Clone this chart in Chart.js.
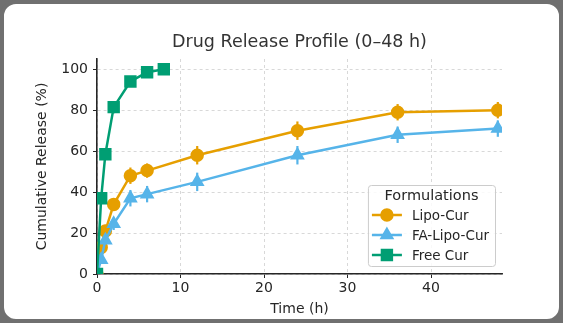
<!DOCTYPE html>
<html>
<head>
<meta charset="utf-8">
<script src="https://cdn.jsdelivr.net/npm/chart.js@4"></script>
<style>
  html, body { margin: 0; padding: 0; background: #707070; }
  #frame {
    position: absolute; left: 0; top: 0; width: 563px; height: 323px;
    box-sizing: border-box; border: 4px solid #707070; border-radius: 16px; background: #fff;
  }
  #wrap { position: absolute; left: 0; top: 0; width: 563px; height: 323px; }
</style>
</head>
<body>
<div id="frame"></div>
<div id="wrap"><canvas id="releaseChart" width="563" height="323"></canvas></div>
<script>
// sampling times (h)
const timeLipo = [0, 0.5, 1, 2, 4, 6, 12, 24, 36, 48];
const timeFree = [0, 0.5, 1, 2, 4, 6, 8];

// cumulative release (%) and error (+/-)
const lipoCur   = [0, 13, 21, 34, 48, 50.5, 58, 70, 79, 80];
const lipoErr   = [0, 2, 3, 3, 4, 3.5, 4.5, 4.5, 4, 4];
const faLipoCur = [0, 7, 16.5, 24.5, 37, 39, 45, 58, 68, 71];
const faErr     = [0, 2, 2.5, 3, 4, 4, 4.5, 4.5, 4, 4];
const freeCur   = [0, 37, 58.5, 81.5, 94, 98.5, 100];
const freeErr   = [0, 2, 2.5, 3, 2.5, 1.5, 1];

const xTicks = [0, 10, 20, 30, 40];
const yTicks = [0, 20, 40, 60, 80, 100];

const chartTitle = 'Drug Release Profile (0\u201348 h)';
const FONT = "'DejaVu Sans', sans-serif";

function toPoints(xs, ys) {
    return xs.map((x, i) => ({ x: x, y: ys[i] }));
}

// title centred over the axes, like matplotlib's ax.set_title
const axesTitle = {
    id: 'axesTitle',
    afterDraw(chart) {
        const ctx = chart.ctx;
        const area = chart.chartArea;
        ctx.save();
        ctx.font = '17.5px ' + FONT;
        ctx.fillStyle = '#333333';
        ctx.textAlign = 'center';
        ctx.textBaseline = 'middle';
        ctx.fillText(chartTitle, (area.left + area.right) / 2, area.top - 17);
        ctx.restore();
    }
};

// vertical error bars, drawn under the markers
const errorBars = {
    id: 'errorBars',
    beforeDatasetsDraw(chart) {
        const ctx = chart.ctx;
        const yScale = chart.scales.y;
        chart.data.datasets.forEach((ds, di) => {
            const meta = chart.getDatasetMeta(di);
            ctx.save();
            ctx.strokeStyle = ds.borderColor;
            ctx.lineWidth = 2.2;
            meta.data.forEach((pt, i) => {
                const e = ds.errors[i];
                if (!e) return;
                const v = ds.data[i].y;
                ctx.beginPath();
                ctx.moveTo(pt.x, yScale.getPixelForValue(v - e));
                ctx.lineTo(pt.x, yScale.getPixelForValue(v + e));
                ctx.stroke();
            });
            ctx.restore();
        });
    }
};

// matplotlib-like legend inside the plot, lower right
const boxLegend = {
    id: 'boxLegend',
    afterDraw(chart) {
        const ctx = chart.ctx;
        const area = chart.chartArea;
        const sets = chart.data.datasets;
        ctx.save();
        ctx.font = '14.5px ' + FONT;
        const titleW = ctx.measureText('Formulations').width;
        ctx.font = '13.5px ' + FONT;
        const entryW = Math.max(...sets.map(d => ctx.measureText(d.label).width));
        const w = Math.max(titleW + 16, entryW + 50);
        const h = 81;
        const right = area.right - 7;
        const bottom = area.bottom - 8;
        const left = right - w;
        const top = bottom - h;

        ctx.fillStyle = 'rgba(255,255,255,0.85)';
        ctx.strokeStyle = '#cccccc';
        ctx.lineWidth = 1;
        ctx.beginPath();
        ctx.roundRect(left + 0.5, top + 0.5, w, h, 3);
        ctx.fill();
        ctx.stroke();

        ctx.fillStyle = '#262626';
        ctx.textBaseline = 'middle';
        ctx.textAlign = 'center';
        ctx.font = '14.5px ' + FONT;
        ctx.fillText('Formulations', left + w / 2, top + 11);

        ctx.textAlign = 'left';
        ctx.font = '13.5px ' + FONT;
        sets.forEach((ds, i) => {
            const y = top + 30 + i * 20;
            ctx.strokeStyle = ds.borderColor;
            ctx.lineWidth = 2.5;
            ctx.beginPath();
            ctx.moveTo(left + 4, y);
            ctx.lineTo(left + 34, y);
            ctx.stroke();
            ctx.fillStyle = ds.borderColor;
            ctx.strokeStyle = ds.borderColor;
            Chart.helpers.drawPoint(ctx, {
                pointStyle: ds.pointStyle,
                radius: ds.pointRadius,
                borderWidth: 1
            }, left + 19, y);
            ctx.fillStyle = '#262626';
            ctx.fillText(ds.label, left + 44, y + 1);
        });
        ctx.restore();
    }
};

const ctx = document.getElementById('releaseChart');

new Chart(ctx, {
    type: 'line',
    data: {
        datasets: [{
            label: 'Lipo-Cur',
            data: toPoints(timeLipo, lipoCur),
            errors: lipoErr,
            borderColor: '#E69F00',
            backgroundColor: '#E69F00',
            pointStyle: 'circle',
            pointRadius: 5.5,
            borderWidth: 2.5,
            order: 3
        }, {
            label: 'FA-Lipo-Cur',
            data: toPoints(timeLipo, faLipoCur),
            errors: faErr,
            borderColor: '#56B4E9',
            backgroundColor: '#56B4E9',
            pointStyle: 'triangle',
            pointRadius: 6,
            borderWidth: 2.5,
            order: 2
        }, {
            label: 'Free Cur',
            data: toPoints(timeFree, freeCur),
            errors: freeErr,
            borderColor: '#009E73',
            backgroundColor: '#009E73',
            pointStyle: 'rect',
            pointRadius: 7,
            borderWidth: 2.5,
            order: 1
        }]
    },
    options: {
        responsive: false,
        animation: false,
        layout: { padding: { left: 26, right: 61, top: 59, bottom: 5 } },
        plugins: {
            legend: { display: false },
            tooltip: { enabled: false },
            title: { display: false }
        },
        scales: {
            x: {
                type: 'linear',
                min: 0,
                max: 48.5,
                afterBuildTicks: s => { s.ticks = xTicks.map(v => ({ value: v })); },
                afterFit: s => { s.height = 44; },
                ticks: { color: '#262626', font: { family: FONT, size: 14 }, padding: 2, maxRotation: 0 },
                grid: { color: '#d4d4d4', lineWidth: 0.9, tickColor: '#262626', tickLength: 4, tickWidth: 1 },
                border: { color: '#262626', width: 1.6, dash: [3, 3] },
                title: { display: true, text: 'Time (h)', color: '#262626', font: { family: FONT, size: 14 }, padding: { top: 2, bottom: 0 } }
            },
            y: {
                min: 0,
                max: 105,
                afterBuildTicks: s => { s.ticks = yTicks.map(v => ({ value: v })); },
                afterFit: s => { s.width = 71; },
                ticks: { color: '#262626', font: { family: FONT, size: 14 }, padding: 5 },
                grid: { color: '#d4d4d4', lineWidth: 0.9, tickColor: '#262626', tickLength: 4, tickWidth: 1 },
                border: { color: '#262626', width: 1.6, dash: [3, 3] },
                title: { display: true, text: 'Cumulative Release (%)', color: '#262626', font: { family: FONT, size: 14 }, padding: { top: 8, bottom: 0 } }
            }
        }
    },
    plugins: [axesTitle, errorBars, boxLegend]
});
</script>
</body>
</html>
